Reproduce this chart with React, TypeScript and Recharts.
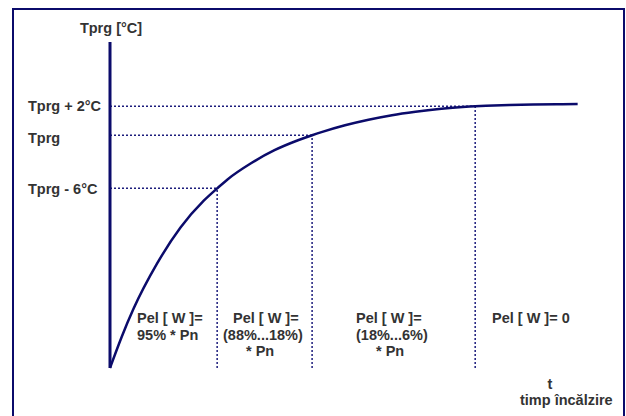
import { LineChart, Line, XAxis, YAxis, ReferenceLine, Customized } from "recharts";

// heating time (0..100) vs temperature (arbitrary units)
const timePoints = [0, 2.5, 5, 10, 15, 20, 22.8, 25, 30, 35, 40, 43, 45, 50, 55, 60, 65, 70, 75, 77.7, 80, 85, 90, 95, 99.5];
const tempPoints = [0, 9.6, 18.15, 32.0, 43.1, 51.4, 55.1, 57.85, 62.8, 66.8, 69.85, 71.4, 72.35, 74.45, 76.15, 77.55, 78.6, 79.45, 80.05, 80.3, 80.45, 80.7, 80.85, 80.92, 80.98];

// levels on the temperature axis and where the curve reaches them
const levelTemps = [55.1, 71.4, 80.3];
const levelLabels = ["Tprg - 6°C", "Tprg", "Tprg + 2°C"];
const levelTimes = [22.8, 43, 77.7];

const data = timePoints.map((t, i) => ({ t, temp: tempPoints[i] }));

const NAVY = "#0b0b6b";
const DOT = "#1c1c7c";
const TXT = "#333333";
const font = "'Liberation Sans', Arial, sans-serif";

const LevelTick = (props: any) => {
  const { y, payload } = props;
  const i = levelTemps.indexOf(payload.value);
  return (
    <text x={28} y={y + (i === 1 ? 3 : 0)} dy="0.36em" textAnchor="start" fill={TXT} fontSize={14.5} fontWeight="bold" fontFamily={font}>
      {levelLabels[i]}
    </text>
  );
};

const Annotations = () => {
  const st = { fill: TXT, fontSize: 14.5, fontWeight: "bold" as const, fontFamily: font };
  return (
    <g>
      <text x={111} y={28} dy="0.36em" textAnchor="middle" {...st}>Tprg [°C]</text>

      <text x={137} y={318} dy="0.36em" {...st}>Pel [ W ]=</text>
      <text x={137} y={335} dy="0.36em" {...st}>95% * Pn</text>

      <text x={233} y={318} dy="0.36em" {...st}>Pel [ W ]=</text>
      <text x={223} y={335} dy="0.36em" {...st}>(88%...18%)</text>
      <text x={246} y={351} dy="0.36em" {...st}>* Pn</text>

      <text x={356} y={318} dy="0.36em" {...st}>Pel [ W ]=</text>
      <text x={356} y={335} dy="0.36em" {...st}>(18%...6%)</text>
      <text x={376} y={351} dy="0.36em" {...st}>* Pn</text>

      <text x={492} y={318} dy="0.36em" {...st}>Pel [ W ]= 0</text>

      <text x={550} y={384} dy="0.36em" textAnchor="middle" {...st}>t</text>
      <text x={520} y={400} dy="0.36em" {...st}>timp încălzire</text>
    </g>
  );
};

export default function App() {
  return (
    <div style={{ position: "fixed", left: 0, top: 0, width: 626, height: 416, overflow: "hidden", background: "#fff" }}>
      <div style={{ position: "absolute", left: 12, top: 8, width: 613, height: 420, border: `2px solid ${NAVY}`, boxSizing: "border-box" }} />
      <LineChart width={626} height={416} data={data} margin={{ top: 42, right: 46, bottom: 48, left: 20 }}>
        <XAxis
          dataKey="t"
          type="number"
          domain={[0, 100]}
          tick={false}
          tickLine={false}
          height={0}
          axisLine={{ stroke: NAVY, strokeWidth: 3 }}
        />
        <YAxis
          type="number"
          domain={[0, 100]}
          width={90}
          ticks={levelTemps}
          tick={<LevelTick />}
          tickLine={false}
          axisLine={{ stroke: NAVY, strokeWidth: 3 }}
        />
        {levelTemps.map((v, i) => (
          <ReferenceLine
            key={"h" + i}
            segment={[{ x: 0, y: v }, { x: levelTimes[i], y: v }]}
            stroke={DOT}
            strokeWidth={1.5}
            strokeDasharray="2 2"
          />
        ))}
        {levelTemps.map((v, i) => (
          <ReferenceLine
            key={"v" + i}
            segment={[{ x: levelTimes[i], y: 0 }, { x: levelTimes[i], y: v }]}
            stroke={DOT}
            strokeWidth={1.5}
            strokeDasharray="2 2"
          />
        ))}
        <Line
          type="monotone"
          dataKey="temp"
          stroke={NAVY}
          strokeWidth={2.5}
          dot={false}
          isAnimationActive={false}
        />
        <Customized component={<Annotations />} />
      </LineChart>
    </div>
  );
}
